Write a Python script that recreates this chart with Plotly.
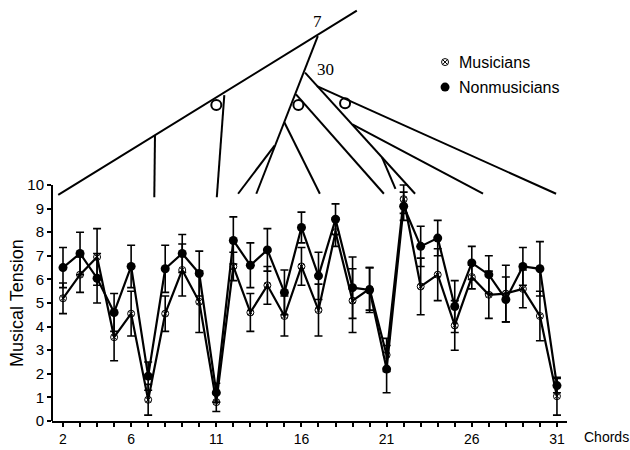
import plotly.graph_objects as go

# ---------------- data ----------------
chords = list(range(2, 32))
nonmusicians = [6.5, 7.1, 6.05, 4.6, 6.55, 1.9, 6.45, 7.1, 6.25, 1.2,
                7.65, 6.6, 7.25, 5.45, 8.2, 6.15, 8.55, 5.65, 5.55, 2.2,
                9.1, 7.4, 7.75, 4.85, 6.7, 6.2, 5.15, 6.55, 6.45, 1.5]
nonmusicians_err = [0.85, 0.9, 1.05, 0.8, 0.9, 0.6, 1.0, 0.8, 0.95, 0.4,
                    1.0, 0.95, 0.9, 0.95, 0.65, 1.0, 0.65, 1.3, 0.95, 1.0,
                    0.6, 0.85, 0.75, 1.1, 0.7, 0.8, 0.95, 0.8, 1.15, 0.3]
musicians = [5.2, 6.2, 6.95, 3.55, 4.55, 0.9, 4.55, 6.4, 5.05, 0.8,
             6.55, 4.6, 5.75, 4.45, 6.55, 4.7, 8.0, 5.1, 5.6, 2.8,
             9.4, 5.7, 6.2, 4.05, 6.1, 5.35, 5.4, 5.6, 4.45, 1.05]
musicians_err = [0.65, 0.75, 1.2, 1.0, 0.95, 0.65, 0.75, 1.1, 1.3, 0.4,
                 0.6, 0.8, 0.8, 0.85, 0.8, 1.1, 0.6, 1.35, 0.9, 0.7,
                 0.6, 1.2, 1.1, 1.05, 0.5, 1.0, 1.2, 0.8, 1.05, 0.8]

x_tickvals = chords
x_ticktext = ["2", "", "", "", "6", "", "", "", "", "11", "", "", "", "",
              "16", "", "", "", "", "21", "", "", "", "", "26", "", "", "", "", "31"]
y_tickvals = list(range(0, 11))

# tree diagram (chord, tension units) as segments
tree_x = [1.72, 19.25, None,
          16.96, 13.35, None,
          11.47, 11.03, None,
          7.40, 7.36, None,
          14.42, 12.28, None,
          15.00, 17.08, None,
          15.68, 20.84, None,
          16.21, 22.67, None,
          18.99, 26.66, None,
          20.73, 21.52, None,
          16.91, 30.95]
tree_y = [9.58, 17.39, None,
          16.31, 9.63, None,
          13.81, 9.48, None,
          12.12, 9.48, None,
          11.67, 9.63, None,
          12.65, 9.63, None,
          13.84, 9.63, None,
          14.76, 9.63, None,
          12.57, 9.63, None,
          11.17, 9.84, None,
          14.19, 9.63]
circle_x = [11.0, 15.82, 18.56]
circle_y = [13.39, 13.39, 13.46]
node_labels = ["7", "30"]
node_x = [16.93, 17.4]
node_y = [16.95, 14.9]

legend_names = ["Musicians", "Nonmusicians"]
legend_x = [24.43, 24.43]
legend_y = [15.21, 14.15]

X_RANGE = [1.354, 31.59]
Y_RANGE = [0, 17.84]

fig = go.Figure()

# tree
fig.add_trace(go.Scatter(x=tree_x, y=tree_y, mode="lines",
                         line=dict(color="black", width=2),
                         showlegend=False, hoverinfo="skip"))
fig.add_trace(go.Scatter(x=circle_x, y=circle_y, mode="markers",
                         marker=dict(symbol="circle-open", size=10, color="black",
                                     line=dict(color="black", width=2)),
                         showlegend=False, hoverinfo="skip"))

# data series
fig.add_trace(go.Scatter(
    x=chords, y=musicians, mode="lines+markers", name="Musicians",
    line=dict(color="black", width=2.2),
    marker=dict(symbol="circle-x-open", size=7, color="black",
                line=dict(color="black", width=1)),
    error_y=dict(type="data", array=musicians_err, color="black",
                 thickness=1.6, width=4),
    showlegend=False))
fig.add_trace(go.Scatter(
    x=chords, y=nonmusicians, mode="lines+markers", name="Nonmusicians",
    line=dict(color="black", width=2.2),
    marker=dict(symbol="circle", size=9, color="black"),
    error_y=dict(type="data", array=nonmusicians_err, color="black",
                 thickness=1.6, width=4),
    showlegend=False))

# legend markers
fig.add_trace(go.Scatter(x=[legend_x[0]], y=[legend_y[0]], mode="markers",
                         marker=dict(symbol="circle-x-open", size=7, color="black",
                                     line=dict(color="black", width=1)),
                         showlegend=False, hoverinfo="skip"))
fig.add_trace(go.Scatter(x=[legend_x[1]], y=[legend_y[1]], mode="markers",
                         marker=dict(symbol="circle", size=9, color="black"),
                         showlegend=False, hoverinfo="skip"))

annotations = []
for name, lx, ly in zip(legend_names, legend_x, legend_y):
    annotations.append(dict(x=lx + 0.7, y=ly, xref="x", yref="y", text=name,
                            showarrow=False, xanchor="left", yanchor="middle",
                            font=dict(family="Liberation Sans", size=16, color="black")))
for t, nx, ny in zip(node_labels, node_x, node_y):
    annotations.append(dict(x=nx, y=ny, xref="x", yref="y", text=t,
                            showarrow=False, xanchor="center", yanchor="middle",
                            font=dict(family="Liberation Serif", size=17, color="black")))
annotations.append(dict(x=(17 - 52) / 515, y=5.0, xref="paper", yref="y",
                        text="Musical Tension", textangle=-90, showarrow=False,
                        xanchor="center", yanchor="middle",
                        font=dict(family="Liberation Sans", size=18, color="black")))
annotations.append(dict(x=(583 - 52) / 515, y=-(437 - 421) / 421, xref="paper", yref="paper",
                        text="Chords", showarrow=False, xanchor="left", yanchor="middle",
                        borderpad=0,
                        font=dict(family="Liberation Sans", size=14, color="black")))

fig.update_layout(
    width=630, height=450,
    margin=dict(l=52, r=63, t=0, b=29),
    paper_bgcolor="white", plot_bgcolor="white",
    annotations=annotations,
    shapes=[dict(type="line", xref="paper", yref="y", x0=0, x1=0, y0=0, y1=10,
                 line=dict(color="black", width=2))],
    xaxis=dict(range=X_RANGE, tickvals=x_tickvals, ticktext=x_ticktext,
               showgrid=False, zeroline=False, showline=True, linecolor="black",
               linewidth=2, ticks="outside", ticklen=4, tickwidth=1.5,
               tickcolor="black",
               tickfont=dict(family="Liberation Sans", size=14, color="black")),
    yaxis=dict(range=Y_RANGE, tickvals=y_tickvals, showgrid=False, zeroline=False,
               showline=False, ticks="outside", ticklen=4, tickwidth=1.5,
               tickcolor="black",
               tickfont=dict(family="Liberation Sans", size=15, color="black")),
    showlegend=False,
)

fig.write_html("out.html")
